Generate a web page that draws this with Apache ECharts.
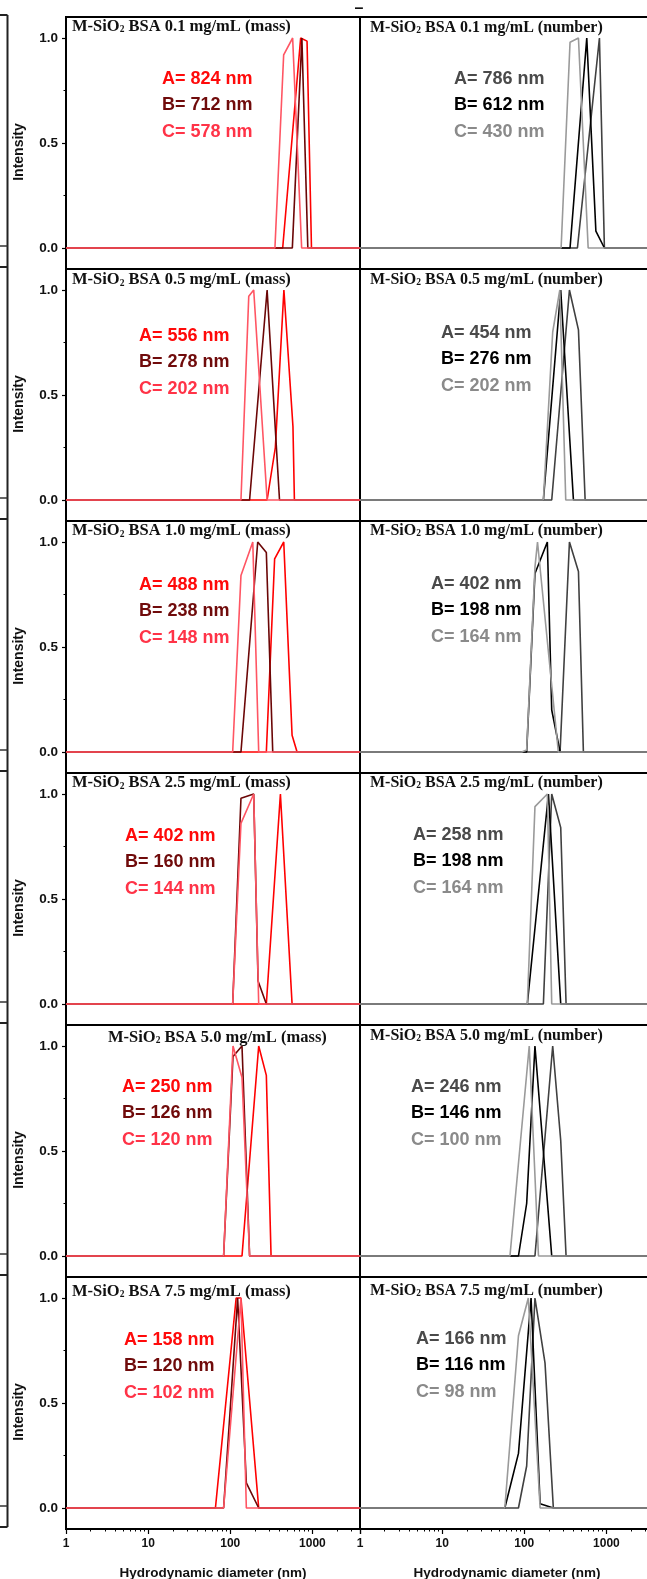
<!DOCTYPE html>
<html>
<head>
<meta charset="utf-8">
<script src="https://cdn.jsdelivr.net/npm/echarts@6/dist/echarts.min.js"></script>
<style>html,body{margin:0;padding:0;background:#fff}#c{width:647px;height:1579px}</style>
</head>
<body>
<div id="c"></div>
<script>
// ---------------- data ----------------
const X_MIN = 1, X_MAX = 3800;
const concentrations = ['0.1', '0.5', '1.0', '2.5', '5.0', '7.5'];
const xTickValues = [1, 10, 100, 1000];
const yTickValues = [0, 0.5, 1.0];
const yMinorTickValues = [0.25, 0.75];

// peak size labels (nm)
const massA_nm = [824, 556, 488, 402, 250, 158];
const massB_nm = [712, 278, 238, 160, 126, 120];
const massC_nm = [578, 202, 148, 144, 120, 102];
const numberA_nm = [786, 454, 402, 258, 246, 166];
const numberB_nm = [612, 276, 198, 198, 146, 116];
const numberC_nm = [430, 202, 164, 164, 100, 98];

// distributions: [hydrodynamic diameter (nm), intensity], one list per concentration
const massA = [
  [[435, 0], [720, 1], [861, 0.985], [975, 0]],
  [[281, 0], [354, 0.25], [450, 1], [580, 0.35], [604, 0]],
  [[275, 0], [347, 0.92], [448, 1], [566, 0.08], [651, 0]],
  [[275, 0], [408, 1], [566, 0]],
  [[139, 0], [222, 1], [275, 0.86], [314, 0]],
  [[66, 0], [118, 1], [135, 1], [222, 0]]
];
const massB = [
  [[570, 0], [745, 1], [880, 0]],
  [[172, 0], [281, 1], [398, 0]],
  [[135, 0], [216, 1], [275, 0.95], [329, 0]],
  [[107, 0], [135, 0.98], [193, 1], [218, 0.11], [275, 0]],
  [[83, 0], [108, 0.95], [139, 1], [172, 0]],
  [[83, 0], [123, 1], [157, 0.12], [222, 0]]
];
const massC = [
  [[350, 0], [447, 0.92], [575, 1], [740, 0]],
  [[135, 0], [168, 0.97], [193, 1], [281, 0]],
  [[107, 0], [135, 0.84], [188, 1], [222, 0]],
  [[107, 0], [135, 0.86], [193, 1], [222, 0]],
  [[83, 0], [108, 1], [139, 0.85], [172, 0]],
  [[83, 0], [135, 1], [157, 0]]
];
const numberA = [
  [[444, 0], [823, 1], [946, 0]],
  [[216, 0], [355, 1], [457, 0.81], [551, 0]],
  [[273, 0], [355, 1], [457, 0.86], [525, 0]],
  [[171, 0], [216, 1], [278, 0.84], [323, 0]],
  [[135, 0], [222, 1], [278, 0.55], [323, 0]],
  [[85, 0], [107, 0.2], [135, 1], [179, 0.69], [226, 0]]
];
const numberB = [
  [[361, 0], [577, 1], [745, 0.08], [946, 0]],
  [[171, 0], [278, 1], [397, 0]],
  [[107, 0], [135, 0.85], [191, 1], [216, 0.2], [273, 0]],
  [[109, 0], [197, 1], [278, 0]],
  [[85, 0], [107, 0.25], [135, 1], [216, 0]],
  [[58, 0], [85, 0.26], [121, 1], [156, 0.02], [226, 0]]
];
const numberC = [
  [[281, 0], [361, 0.98], [457, 1], [600, 0]],
  [[171, 0], [222, 0.8], [271, 1], [320, 0]],
  [[93, 0], [107, 0.01], [135, 0.88], [145, 1], [260, 0]],
  [[109, 0], [135, 0.94], [191, 1], [216, 0]],
  [[67, 0], [115, 1], [149, 0]],
  [[58, 0], [85, 0.82], [112, 1], [156, 0]]
];

// ---------------- layout / style ----------------
const ROW_TOP = 17, ROW_H = 252, PLOT_W = 294, MASS_LEFT = 66, NUM_LEFT = 360;
const SANS = '"Liberation Sans", Arial, Helvetica, sans-serif';
const SERIF = '"Liberation Serif", "Times New Roman", serif';
const massColors = { A: '#ff0000', B: '#6b0606', C: '#ff5563' };
const massTextColors = { A: '#ff0a0a', B: '#700b0b', C: '#ff3347' };
const numColors = { A: '#404040', B: '#000000', C: '#9a9a9a' };
const numTextColors = { A: '#4a4a4a', B: '#000000', C: '#8a8a8a' };
const massTextPos = [[162, 79], [139, 336], [139, 585], [125, 836], [122, 1087], [124, 1340]];
const numTextPos = [[454, 79], [441, 333], [431, 584], [413, 835], [411, 1087], [416, 1339]];
const massTitlePos = [[72, 26.5], [72, 280], [72, 531], [72, 783], [108, 1037.5], [72, 1291.5]];
const numTitlePos = [[370, 28], [370, 280], [370, 531], [370, 783], [370, 1036], [370, 1290.5]];
const LINE_GAP = 26.4;

const grid = [], xAxis = [], yAxis = [], series = [], graphic = [];

function addPanel(left, row, showY, curves, colors) {
  const gi = grid.length;
  const isBottom = row === 5;
  grid.push({ left, top: ROW_TOP + ROW_H * row, width: PLOT_W, height: ROW_H, outerBoundsMode: 'none',
    containLabel: false, show: true, borderColor: '#000', borderWidth: 2 });
  xAxis.push({ type: 'log', logBase: 10, min: X_MIN, max: X_MAX, gridIndex: gi, position: 'bottom',
    axisLine: { show: false, onZero: false },
    axisTick: { show: isBottom, length: 5, lineStyle: { color: '#000', width: 1.2 } },
    minorTick: { show: isBottom, splitNumber: 9, length: 2.5, lineStyle: { color: '#000', width: 1 } },
    axisLabel: { show: isBottom, margin: 9, fontSize: 12, fontWeight: 'bold', color: '#111', fontFamily: SANS,
      formatter: v => (xTickValues.indexOf(Math.round(v)) >= 0 && Math.abs(v - Math.round(v)) < 1e-6) ? String(Math.round(v)) : '' },
    splitLine: { show: false }, minorSplitLine: { show: false },
    name: isBottom ? 'Hydrodynamic diameter (nm)' : '', nameLocation: 'middle', nameGap: 37,
    nameTextStyle: { fontSize: 13.5, fontWeight: 'bold', color: '#111', fontFamily: SANS } });
  const xi = xAxis.length - 1;
  yAxis.push({ type: 'value', min: -0.1, max: 1.1, gridIndex: gi, position: 'left',
    axisLine: { show: false }, splitLine: { show: false },
    axisTick: { show: showY, customValues: yTickValues, length: 4, lineStyle: { color: '#000', width: 1.2 } },
    axisLabel: { show: showY, customValues: yTickValues, formatter: v => v.toFixed(1), margin: 8,
      fontSize: 13.5, fontWeight: 'bold', color: '#111', fontFamily: SANS } });
  const yi = yAxis.length - 1;
  if (showY) {
    yAxis.push({ type: 'value', min: -0.1, max: 1.1, gridIndex: gi, position: 'left', offset: 0,
      axisLine: { show: false }, splitLine: { show: false },
      axisTick: { show: true, customValues: yMinorTickValues, length: 2.5, lineStyle: { color: '#000', width: 1 } },
      axisLabel: { show: false } });
  }
  ['A', 'B', 'C'].forEach(k => {
    series.push({ type: 'line', xAxisIndex: xi, yAxisIndex: yi,
      data: [[X_MIN, 0]].concat(curves[k][row], [[X_MAX, 0]]),
      symbol: 'none', silent: true, clip: true, animation: false,
      lineStyle: { color: colors[k], width: 1.6 } });
  });
}

for (let r = 0; r < 6; r++) {
  addPanel(MASS_LEFT, r, true, { A: massA, B: massB, C: massC }, massColors);
  addPanel(NUM_LEFT, r, false, { A: numberA, B: numberB, C: numberC }, numColors);
}

// cropped neighbouring figure at the far left edge (frame fragments only)
const NB_X = 7.5, NB_TOP = 15;
graphic.push({ type: 'line', silent: true, shape: { x1: NB_X, y1: NB_TOP, x2: NB_X, y2: NB_TOP + ROW_H * 6 },
  style: { stroke: '#222', lineWidth: 2 } });
for (let r = 0; r <= 6; r++) {
  const yb = NB_TOP + ROW_H * r;
  graphic.push({ type: 'line', silent: true, shape: { x1: 0, y1: yb, x2: NB_X, y2: yb }, style: { stroke: '#222', lineWidth: 2 } });
  if (r < 6) {
    const y0 = yb + ROW_H - 21;
    graphic.push({ type: 'line', silent: true, shape: { x1: 0, y1: y0, x2: NB_X, y2: y0 }, style: { stroke: '#333', lineWidth: 1.5 } });
  }
}

const subRich = { s: { fontSize: 9.5, fontWeight: 'bold', fontFamily: SERIF, verticalAlign: 'bottom', lineHeight: 9, fill: '#111' } };
for (let r = 0; r < 6; r++) {
  const c = concentrations[r];
  graphic.push({ type: 'text', x: massTitlePos[r][0], y: massTitlePos[r][1], silent: true,
    style: { text: 'M-SiO{s|2} BSA ' + c + ' mg/mL (mass)', rich: subRich, fill: '#111',
      font: 'bold 16.5px ' + SERIF, verticalAlign: 'middle', align: 'left' } });
  graphic.push({ type: 'text', x: numTitlePos[r][0], y: numTitlePos[r][1], silent: true,
    style: { text: 'M-SiO{s|2} BSA ' + c + ' mg/mL (number)', rich: subRich, fill: '#111',
      font: 'bold 16px ' + SERIF, verticalAlign: 'middle', align: 'left' } });
  const mv = { A: massA_nm[r], B: massB_nm[r], C: massC_nm[r] };
  const nv = { A: numberA_nm[r], B: numberB_nm[r], C: numberC_nm[r] };
  ['A', 'B', 'C'].forEach((k, i) => {
    graphic.push({ type: 'text', x: massTextPos[r][0], y: massTextPos[r][1] + i * LINE_GAP, silent: true,
      style: { text: k + '= ' + mv[k] + ' nm', fill: massTextColors[k], font: 'bold 18px ' + SANS, verticalAlign: 'middle' } });
    graphic.push({ type: 'text', x: numTextPos[r][0], y: numTextPos[r][1] + i * LINE_GAP, silent: true,
      style: { text: k + '= ' + nv[k] + ' nm', fill: numTextColors[k], font: 'bold 18px ' + SANS, verticalAlign: 'middle' } });
  });
  graphic.push({ type: 'text', x: 19, y: ROW_TOP + ROW_H * r + ROW_H / 2 + 9, rotation: Math.PI / 2, silent: true,
    style: { text: 'Intensity', fill: '#111', font: 'bold 14px ' + SANS, align: 'center', verticalAlign: 'middle' } });
}
graphic.push({ type: 'text', x: 359, y: 9, silent: true,
  style: { text: '–', fill: '#111', font: 'bold 16px ' + SANS, align: 'center', verticalAlign: 'middle' } });

const chart = echarts.init(document.getElementById('c'), null, { renderer: 'canvas', width: 647, height: 1579 });
chart.setOption({ animation: false, backgroundColor: '#fff', grid, xAxis, yAxis, series, graphic });
</script>
</body>
</html>
